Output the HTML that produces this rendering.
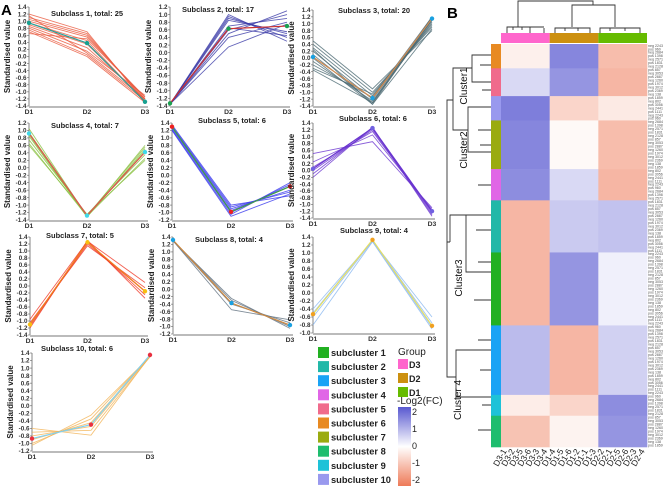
<!DOCTYPE html>
<html><head><meta charset="utf-8">
<style>
html,body{margin:0;padding:0;background:#fff;}
svg{display:block;font-family:"Liberation Sans",Arial,sans-serif;}
</style></head>
<body>
<svg id="fig" width="669" height="487" viewBox="0 0 669 487">
<text x="1" y="15" font-size="15" font-weight="bold">A</text>
<text x="447" y="18" font-size="15" font-weight="bold">B</text>
<g id="panels"></g>
<g id="heat"></g>
<g id="legend"></g>
</svg>
<script>
// ---------- Panel A data ----------
const xCats = ["D1","D2","D3"];
const p1Lines = [[1.2,0.7,-1.3],[1.1,0.65,-1.25],[1.05,0.6,-1.2],[1.0,0.55,-1.15],[0.95,0.45,-1.3],[0.9,0.35,-1.25],[0.85,0.25,-1.2],[0.8,0.15,-1.1],[0.75,0.05,-1.25],[0.7,0.0,-1.3],[0.65,0.5,-1.15],[1.15,0.1,-1.2]];
const p1Mean = [0.95,0.38,-1.28];
const p2Lines = [[-1.35,1.0,0.3],[-1.35,0.95,0.4],[-1.35,0.9,0.5],[-1.35,0.85,0.55],[-1.35,0.7,0.9],[-1.35,0.6,1.0],[-1.35,0.5,1.1],[-1.35,0.4,0.8],[-1.35,0.15,0.75],[-1.35,0.65,0.45]];
const p2Mean = [-1.33,0.63,0.7];
const p3Lines = [[0.5,-0.9,0.8],[0.4,-1.0,0.9],[0.3,-1.1,1.0],[0.2,-1.2,1.1],[0.1,-1.3,1.2],[0.0,-1.35,1.15],[-0.1,-1.25,1.05],[-0.2,-1.15,1.2],[-0.3,-1.05,0.95],[-0.35,-1.3,1.1],[0.25,-1.35,0.85]];
const p3Mean = [0.03,-1.17,1.15];
const p4Lines = [[1.05,-1.3,0.6],[0.95,-1.28,0.55],[0.85,-1.3,0.45],[0.75,-1.25,0.35],[0.65,-1.3,0.25],[0.9,-1.32,0.5],[0.6,-1.25,0.2]];
const p4Mean = [0.92,-1.28,0.42];
const p5Lines = [[1.35,-0.8,-0.55],[1.32,-0.85,-0.45],[1.3,-0.9,-0.4],[1.28,-0.95,-0.3],[1.25,-1.0,-0.25],[1.22,-1.05,-0.2],[1.2,-1.1,-0.5]];
const p5Mean = [1.3,-0.98,-0.3];
const p6Lines = [[0.5,0.85,-1.1],[0.25,1.05,-1.15],[0.1,1.15,-1.2],[0.0,1.2,-1.25],[-0.1,1.25,-1.3],[-0.2,1.28,-1.35]];
const p6Mean = [0.05,1.25,-1.2];
const p7Lines = [[-1.2,1.3,-0.35],[-1.15,1.25,-0.25],[-1.1,1.2,-0.15],[-1.05,1.15,-0.05],[-0.95,1.28,0.1]];
const p7Mean = [-1.1,1.25,-0.15];
const p8Lines = [[1.3,-0.55,-0.82],[1.3,-0.4,-0.9],[1.3,-0.3,-1.0],[1.3,-0.25,-1.05]];
const p8Mean = [1.32,-0.37,-0.96];
const p9Lines = [[-0.4,1.3,-0.6],[-0.5,1.32,-0.75],[-0.6,1.3,-0.85],[-0.8,1.28,-0.9]];
const p9Mean = [-0.53,1.33,-0.82];
const p10Lines = [[-0.6,-0.78,1.32],[-0.7,-0.65,1.3],[-0.8,-0.55,1.32],[-0.9,-0.45,1.3],[-1.0,-0.35,1.32],[-1.05,-0.25,1.3]];
const p10Mean = [-0.87,-0.5,1.35];
const titles = ["Subclass 1, total: 25","Subclass 2, total: 17","Subclass 3, total: 20","Subclass 4, total: 7","Subclass 5, total: 6","Subclass 6, total: 6","Subclass 7, total: 5","Subclass 8, total: 4","Subclass 9, total: 4","Subclass 10, total: 6"];

const panels = [
 {x0:29,x1:145,yT:7,yB:106,vmax:1.4,vmin:-1.4,tx:87,ty:16,lines:p1Lines,mean:p1Mean,lc:"#ea5a3e",mc:"#2aa09a",pc:"#18a090"},
 {x0:170,x1:287,yT:7,yB:106,vmax:1.2,vmin:-1.4,tx:218,ty:12,lines:p2Lines,mean:p2Mean,lc:"#3b3ba8",mc:"#cc3030",pc:"#1aa050"},
 {x0:313,x1:432,yT:10,yB:106,vmax:1.4,vmin:-1.4,tx:374,ty:13,lines:p3Lines,mean:p3Mean,lc:"#4e6c74",mc:"#d08a50",pc:"#1aa0e0"},
 {x0:29,x1:145,yT:123,yB:220,vmax:1.2,vmin:-1.4,tx:85,ty:128,lines:p4Lines,mean:p4Mean,lc:"#88c040",mc:"#e05050",pc:"#40d8e8"},
 {x0:172,x1:290,yT:123,yB:220,vmax:1.4,vmin:-1.2,tx:232,ty:123,lines:p5Lines,mean:p5Mean,lc:"#3a3aee",mc:"#40a040",pc:"#ee2020"},
 {x0:313,x1:432,yT:123,yB:218,vmax:1.4,vmin:-1.4,tx:373,ty:121,lines:p6Lines,mean:p6Mean,lc:"#6a35d0",mc:"#6a35d0",pc:"#7060e0"},
 {x0:30,x1:145,yT:237,yB:335,vmax:1.4,vmin:-1.4,tx:80,ty:238,lines:p7Lines,mean:p7Mean,lc:"#f03a28",mc:"#f08020",pc:"#f8c010"},
 {x0:173,x1:290,yT:237,yB:334,vmax:1.4,vmin:-1.2,tx:229,ty:242,lines:p8Lines,mean:p8Mean,lc:"#607080",mc:"#d08a40",pc:"#1aa0e0"},
 {x0:313,x1:432,yT:237,yB:333,vmax:1.4,vmin:-1.0,tx:374,ty:233,lines:p9Lines,mean:p9Mean,lc:"#8ab8f0",mc:"#e8e060",pc:"#f0a020"},
 {x0:32,x1:150,yT:353,yB:451,vmax:1.4,vmin:-1.2,tx:77,ty:351,lines:p10Lines,mean:p10Mean,lc:"#f2b458",mc:"#80d0f0",pc:"#e83040"}
];
const NS="http://www.w3.org/2000/svg";
function mk(tag,attrs,parent){const e=document.createElementNS(NS,tag);for(const k in attrs)e.setAttribute(k,attrs[k]);parent.appendChild(e);return e;}
const gp=document.getElementById('panels');
panels.forEach((p,i)=>{
  const g=mk('g',{},gp);
  
  
  const xs=j=>p.x0+(p.x1-p.x0)*j/2;
  const ys=v=>p.yT+(p.vmax-v)/(p.vmax-p.vmin)*(p.yB-p.yT);
  const t=mk('text',{x:p.tx,y:p.ty,'font-size':'7.5','font-weight':'bold','text-anchor':'middle',fill:'#222'},g);
  t.textContent=titles[i];
  
  
  const yl=mk('text',{x:0,y:0,'font-size':'8','font-weight':'bold','text-anchor':'middle',fill:'#222',transform:`translate(${p.x0-19},${(p.yT+p.yB)/2}) rotate(-90)`},g);
  yl.textContent="Standardised value";
  
  
  mk('line',{x1:p.x0,y1:p.yT,x2:p.x0,y2:p.yB,stroke:'#666','stroke-width':'0.8'},g);
  const n=Math.round((p.vmax-p.vmin)/0.2);
  for(let k=0;k<=n;k++){
    const v=p.vmax-k*0.2, y=ys(v);
    mk('line',{x1:p.x0-2,y1:y,x2:p.x0,y2:y,stroke:'#666','stroke-width':'0.6'},g);
    const tl=mk('text',{x:p.x0-2.5,y:y+2.2,'font-size':'6.3','font-weight':'bold','text-anchor':'end',fill:'#333'},g);
    tl.textContent=(Math.abs(v)<1e-9?0:v).toFixed(1);
    
    
  }
  mk('line',{x1:p.x0,y1:p.yB+1,x2:p.x1+3,y2:p.yB+1,stroke:'#bbb','stroke-width':'2'},g);
  xCats.forEach((c,j)=>{
    const xl=mk('text',{x:xs(j),y:p.yB+8,'font-size':'6.8','font-weight':'bold','text-anchor':'middle',fill:'#333'},g);
    xl.textContent=c;
    
    
  });
  p.lines.forEach(l=>{
    const pl=mk('polyline',{points:l.map((v,j)=>xs(j)+','+ys(v)).join(' '),fill:'none',stroke:p.lc,'stroke-width':'0.9','stroke-opacity':'0.8'},g);
    
    
  });
  const ml=mk('polyline',{points:p.mean.map((v,j)=>xs(j)+','+ys(v)).join(' '),fill:'none',stroke:p.mc,'stroke-width':'1.2'},g);
  
  
  p.mean.forEach((v,j)=>{
    const c=mk('circle',{cx:xs(j),cy:ys(v),r:'2.2',fill:p.pc},g);
    
    
  });
});

// ---------- Legend ----------
const legNames=["subcluster 1","subcluster 2","subcluster 3","subcluster 4","subcluster 5","subcluster 6","subcluster 7","subcluster 8","subcluster 9","subcluster 10"];
const legColors=["#22b022","#22b8a8","#1aa3f5","#e066e6","#f06b8c","#e88a22","#9aab10","#1ebd6e","#1ec2d8","#9999ee"];
const gl=document.getElementById('legend');
legNames.forEach((nm,i)=>{
  const y=347+i*14.1;
  const r=mk('rect',{x:318,y:y,width:11,height:11,fill:legColors[i]},gl);
  
  
  const t=mk('text',{x:331,y:y+9,'font-size':'9.3','font-weight':'bold',fill:'#222'},gl);
  t.textContent=nm;
  
  
});
const grpNames=["D3","D2","D1"], grpColors=["#ff66cc","#cc9010","#66bb00"];
const gt=mk('text',{x:398,y:355,'font-size':'10',fill:'#222'},gl); gt.textContent="Group";


grpNames.forEach((g,i)=>{
  const y=359+i*14;
  const r=mk('rect',{x:398,y:y,width:10,height:10,fill:grpColors[i]},gl);
  
  
  const t=mk('text',{x:409,y:y+9,'font-size':'9','font-weight':'bold',fill:'#222'},gl); t.textContent=g;
  
  
});
const ct=mk('text',{x:397,y:404,'font-size':'10',fill:'#222'},gl); ct.textContent="-Log2(FC)";


const defs=mk('defs',{},gl);
const lg=mk('linearGradient',{id:'cs',x1:0,y1:0,x2:0,y2:1},defs);
mk('stop',{offset:'0',  'stop-color':'#5858d0'},lg);
mk('stop',{offset:'0.5','stop-color':'#ffffff'},lg);
mk('stop',{offset:'1',  'stop-color':'#ee7a58'},lg);
const cb=mk('rect',{x:398,y:407,width:13,height:79,fill:'url(#cs)'},gl);


["2","1","0","-1","-2"].forEach((s,i)=>{
  const t=mk('text',{x:412,y:415+i*17,'font-size':'9',fill:'#222'},gl);
  t.textContent=s;
  
  
});

// ---------- Heatmap data ----------
const colLabels=["D3-1","D3-2","D3-5","D3-6","D3-3","D3-4","D1-4","D1-5","D1-6","D1-2","D1-1","D1-3","D2-2","D2-1","D2-5","D2-6","D2-3","D2-4"];
const segColors=["#e88a22","#f06b8c","#9999ee","#9aab10","#e066e6","#22b8a8","#22b022","#1aa3f5","#1ec2d8","#1ebd6e"];
const segRows=[7,8,7,14,9,15,21,20,6,9];
const segVals=[[-0.25,1.6,-1.1],[0.5,1.4,-1.2],[1.7,-0.7,-0.35],[1.6,-0.1,-1.1],[1.5,0.5,-1.2],[-1.2,0.7,0.8],[-1.2,1.4,0.2],[0.9,-1.2,0.6],[-0.3,-0.7,1.5],[-1.0,-0.2,1.4]];
const topColors=["#ff66cc","#cc9010","#66bb00"];
const gh=document.getElementById('heat');
const hx0=501,hx1=647,hy0=44,hy1=447;
const totalRows=segRows.reduce((a,b)=>a+b,0);
const rh=(hy1-hy0)/totalRows, cw=(hx1-hx0)/colLabels.length;
function col(v){const t=Math.max(-1,Math.min(1,v/2.2));
  const a=t>=0?[88,88,208]:[238,122,88]; const k=Math.abs(t);
  return `rgb(${Math.round(255+(a[0]-255)*k)},${Math.round(255+(a[1]-255)*k)},${Math.round(255+(a[2]-255)*k)})`;}
let r0=0;
segRows.forEach((n,s)=>{
  const y=hy0+r0*rh, h=n*rh;
  const sb=mk('rect',{x:491,y:y,width:10,height:h+0.3,fill:segColors[s]},gh);
  
  
  for(let g=0;g<3;g++){
    const c=mk('rect',{x:hx0+g*6*cw,y:y,width:6*cw+0.3,height:h+0.3,fill:col(segVals[s][g])},gh);
    
    
  }
  r0+=n;
});
for(let g=0;g<3;g++){
  const tb=mk('rect',{x:hx0+g*6*cw,y:33,width:6*cw,height:10,fill:topColors[g]},gh);
  
  
}
colLabels.forEach((c,i)=>{
  const x=hx0+(i+0.5)*cw+2;
  const t=mk('text',{x:0,y:0,'font-size':'8.5',fill:'#222','text-anchor':'end',transform:`translate(${x},${hy1+4}) rotate(-60)`},gh);
  t.textContent=c;
  
  
});
const rowIds=["2243","960","2684","1398","2571","1831","2128","857","3053","2887","1260","1974","3012","2369","138","1859","802","3056","2441","1111"];
for(let i=0;i<totalRows;i++){
  const t=mk('text',{x:648,y:hy0+(i+0.8)*rh,'font-size':'3.6',fill:'#555'},gh);
  t.textContent=(i%2?"pos ":"neg ")+rowIds[i%rowIds.length];
  
  
}
const dend=mk('g',{stroke:'#333','stroke-width':'0.9',fill:'none'},gh);


const paths=[
 "M518,27 V1 H593 V5",
 "M572,27 V5 H615 V27",
 "M507,33 V27 H530 V33 M513,27 V30 M522,27 V30 M544,33 V28 M530,27 H544",
 "M555,33 V28 H590 V33 M565,28 V31 M578,28 V31",
 "M600,33 V28 H640 V33 M610,28 V31 M625,28 V31",
 "M491,55 H472 V82 H491 M472,68 H453 V130 H468 M491,107 H468 V152 H491",
 "M453,100 H447 V377 H449",
 "M450,242 V215 H466 V272 H491 M466,215 H491 M450,242 H447",
 "M491,350 H456 V397 H491 M456,377 H449",
 "M491,65 H480 M491,90 H482 M491,130 H478 M491,145 H480 M491,185 H478 M491,230 H476 M491,262 H478 M491,300 H474 M491,340 H478 M491,370 H480 M491,405 H482 M491,430 H478"
];
paths.forEach(d=>{const p=mk('path',{d:d},dend);
  
  });
[["Cluster1",467,86],["Cluster2",467,150],["Cluster3",462,278],["Cluster 4",461,400]].forEach(c=>{
  const t=mk('text',{x:0,y:0,'font-size':'10',fill:'#111','text-anchor':'middle',transform:`translate(${c[1]},${c[2]}) rotate(-90)`},gh);
  t.textContent=c[0];
  
  
});
</script>
</body></html>
